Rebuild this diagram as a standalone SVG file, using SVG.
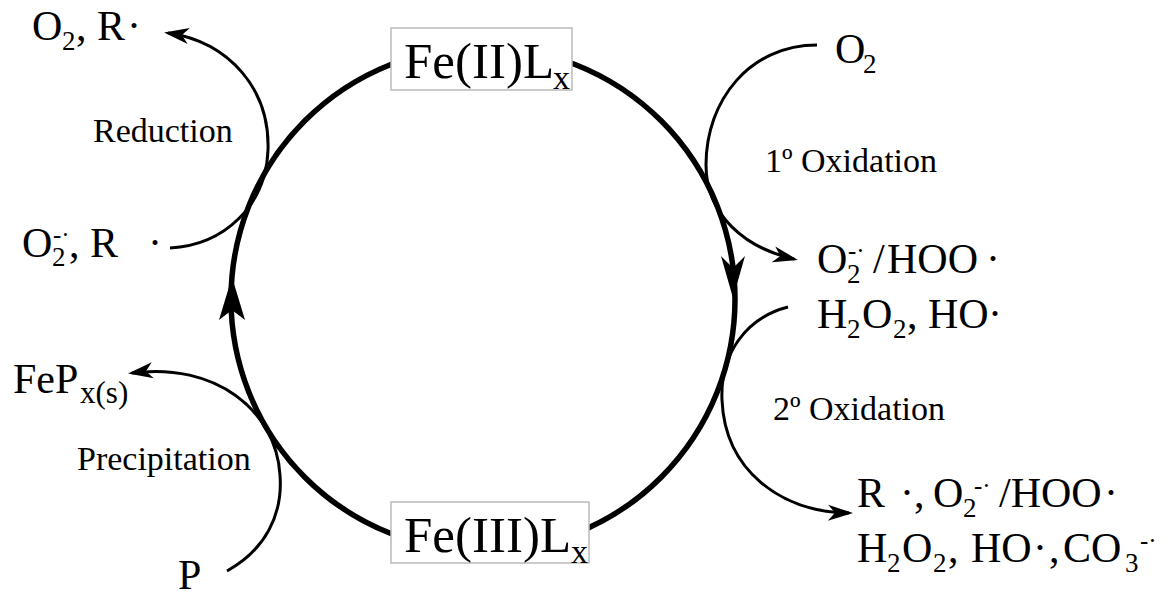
<svg xmlns="http://www.w3.org/2000/svg" width="1170" height="596" viewBox="0 0 1170 596">
<style>
text{font-family:"Liberation Serif","Times New Roman",serif;fill:#000}
.sp{font-size:42px}
.lb{font-size:34px}
.fe{font-size:51px}
.s{font-size:27px}
.u{font-size:25px}
.fs{font-size:34px}
.xs{font-size:31px}
.thin{fill:none;stroke:#000;stroke-width:3;marker-end:url(#ah)}
.box{fill:#fff;stroke:#bbb;stroke-width:1.5}
</style>
<defs>
<marker id="ah" markerUnits="userSpaceOnUse" markerWidth="32" markerHeight="20" viewBox="-24 -10 32 20" refX="0" refY="0" orient="auto">
<path d="M4,0 L-21,-8 L-14,0 L-21,8 Z" fill="#000"/>
</marker>
</defs>
<g id="connectors">
<circle cx="483" cy="299" r="252" fill="none" stroke="#000" stroke-width="5.5"/>
<polygon points="733,298 721,256 733,268 745,256" fill="#000"/>
<polygon points="232,277 219,320 232,310 245,320" fill="#000"/>
<path class="thin" d="M170,248 C225,245 266,205 268,150 C270,90 230,42 168,33"/>
<path class="thin" d="M817,45 C750,45 706,100 706,165 C706,215 745,248 794,259"/>
<path class="thin" d="M788,307 C745,318 720,355 722,400 C725,470 780,512 849,513"/>
<path class="thin" d="M227,571 C265,550 283,515 280,475 C276,410 215,362 132,373"/>
</g>
<g id="fe2">
<rect class="box" x="391" y="28" width="181" height="62"/>
<text class="fe" x="404" y="78">Fe(II)L<tspan class="fs" x="553" y="89">x</tspan></text>
</g>
<g id="fe3">
<rect class="box" x="391" y="502" width="198" height="61"/>
<text class="fe" x="404" y="552">Fe(III)L<tspan class="fs" x="571" y="563">x</tspan></text>
</g>
<g id="reduction">
<text class="sp" x="32" y="40">O<tspan class="s" x="62" y="50">2</tspan><tspan x="76" y="40">, R</tspan><tspan x="127" y="40">·</tspan></text>
<text class="lb" x="93" y="142">Reduction</text>
<text class="sp" x="22" y="257">O<tspan class="s" x="52" y="266">2</tspan><tspan class="u" x="53" y="243">-·</tspan><tspan x="69" y="257">, R</tspan><tspan x="148" y="257">·</tspan></text>
</g>
<g id="ox1">
<text class="sp" x="835" y="63">O<tspan class="s" x="863" y="73">2</tspan></text>
<text class="lb" x="765" y="172">1º Oxidation</text>
<text class="sp" x="817" y="273">O<tspan class="s" x="847" y="283">2</tspan><tspan class="u" x="848" y="259">-·</tspan><tspan x="873" y="273">/</tspan><tspan x="887" y="273">HOO</tspan><tspan x="986" y="273">·</tspan></text>
<text class="sp" x="817" y="328">H<tspan class="s" x="847" y="338">2</tspan><tspan x="862" y="328">O</tspan><tspan class="s" x="893" y="338">2</tspan><tspan x="907" y="328">, HO</tspan><tspan x="988" y="328">·</tspan></text>
</g>
<g id="ox2">
<text class="lb" x="773" y="420">2º Oxidation</text>
<text class="sp" x="857" y="507">R<tspan x="900" y="507">·,</tspan><tspan x="933" y="507">O</tspan><tspan class="s" x="963" y="517">2</tspan><tspan class="u" x="974" y="494">-·</tspan><tspan x="999" y="507">/HOO</tspan><tspan x="1104" y="507">·</tspan></text>
<text class="sp" x="857" y="562">H<tspan class="s" x="887" y="572">2</tspan><tspan x="902" y="562">O</tspan><tspan class="s" x="933" y="572">2</tspan><tspan x="948" y="562">,</tspan><tspan x="971" y="562">HO</tspan><tspan x="1033" y="562">·</tspan><tspan x="1049" y="562">,</tspan><tspan x="1063" y="562">CO</tspan><tspan class="s" x="1125" y="572">3</tspan><tspan class="u" x="1140" y="549">-·</tspan></text>
</g>
<g id="precipitation">
<text class="sp" x="13" y="393">FeP<tspan class="xs" x="80" y="403">x(s)</tspan></text>
<text class="lb" x="77" y="470">Precipitation</text>
<text class="sp" x="178" y="589">P</text>
</g>
</svg>
